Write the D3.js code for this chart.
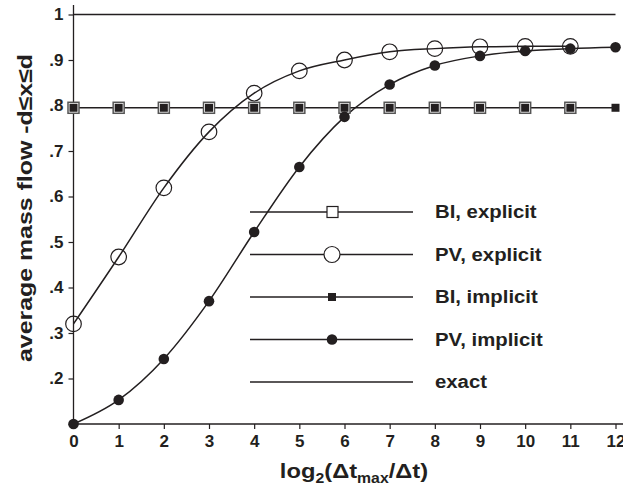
<!DOCTYPE html>
<html>
<head>
<meta charset="utf-8">
<script src="https://cdn.jsdelivr.net/npm/d3@7"></script>
<style>
  body { margin: 0; background: #fff; }
  svg text { font-family: "Liberation Sans", Arial, sans-serif; font-weight: bold; fill: #231f20; }
</style>
</head>
<body>
<div id="chart"></div>
<script>
// data
var steps = [0, 1, 2, 3, 4, 5, 6, 7, 8, 9, 10, 11, 12];
var pvExplicit = [0.32, 0.467, 0.619, 0.742, 0.827, 0.876, 0.90, 0.918, 0.925, 0.929, 0.930, 0.930];
var pvImplicit = [0.10, 0.153, 0.243, 0.37, 0.522, 0.665, 0.775, 0.846, 0.888, 0.909, 0.920, 0.925, 0.928];
var biExplicit = [0.795, 0.795, 0.795, 0.795, 0.795, 0.795, 0.795, 0.795, 0.795, 0.795, 0.795, 0.795];
var biImplicit = [0.795, 0.795, 0.795, 0.795, 0.795, 0.795, 0.795, 0.795, 0.795, 0.795, 0.795, 0.795, 0.795];
var exact = [1, 1];
var exactX = [0, 12];
var yTicks = [0.1, 0.2, 0.3, 0.4, 0.5, 0.6, 0.7, 0.8, 0.9, 1];
var legendNames = ["BI, explicit", "PV, explicit", "BI, implicit", "PV, implicit", "exact"];

var W = 623, H = 491;
var ink = "#231f20";

var svg = d3.select("#chart").append("svg")
    .attr("width", W)
    .attr("height", H);

var x = d3.scaleLinear().domain([0, 12]).range([73.5, 615.5]);
var y = d3.scaleLinear().domain([0.1, 1]).range([424, 14.5]);

function pts(xs, ys) {
    return ys.map(function (v, i) { return [xs[i], v]; });
}

var line = d3.line()
    .x(function (d) { return x(d[0]); })
    .y(function (d) { return y(d[1]); })
    .curve(d3.curveMonotoneX);

// axes
var xAxis = svg.append("g")
    .attr("transform", "translate(0," + y(0.1) + ")")
    .call(d3.axisBottom(x).tickValues(steps).tickSize(5).tickPadding(6).tickFormat(d3.format("d")));
xAxis.select(".domain").remove();
xAxis.append("line")
    .attr("x1", x(0)).attr("x2", W)
    .attr("stroke", ink).attr("stroke-width", 1.3);

var yAxis = svg.append("g")
    .attr("transform", "translate(" + x(0) + ",0)")
    .call(d3.axisLeft(y).tickValues(yTicks).tickSize(5).tickPadding(5)
        .tickFormat(function (d) {
            if (d === 0.1) return "";
            if (d === 1) return "1";
            return d3.format(".1f")(d).replace(/^0/, "");
        }));
yAxis.select(".domain").remove();
yAxis.append("line")
    .attr("y1", 5).attr("y2", y(0.1))
    .attr("stroke", ink).attr("stroke-width", 1.3);

svg.selectAll(".tick line").attr("stroke", ink).attr("stroke-width", 1.2);
svg.selectAll(".tick text").style("font-size", "17px").attr("fill", ink);

// axis titles
svg.append("text")
    .attr("transform", "translate(32,208) rotate(-90)")
    .attr("text-anchor", "middle")
    .attr("textLength", 308)
    .attr("lengthAdjust", "spacingAndGlyphs")
    .style("font-size", "21px")
    .text("average mass flow -d\u2264x\u2264d");

var xt = svg.append("text")
    .attr("transform", "translate(354,478) scale(1.13,1)")
    .attr("text-anchor", "middle")
    .style("font-size", "21px");
xt.append("tspan").text("log");
xt.append("tspan").attr("dy", 5).style("font-size", "14px").text("2");
xt.append("tspan").attr("dy", -5).text("(\u0394t");
xt.append("tspan").attr("dy", 5).style("font-size", "14px").text("max");
xt.append("tspan").attr("dy", -5).text("/\u0394t)");

// series lines
var lw = 1.5;
svg.append("path").datum(pts(exactX, exact))
    .attr("d", line).attr("fill", "none").attr("stroke", ink).attr("stroke-width", lw);
svg.append("path").datum(pts(steps, biImplicit))
    .attr("d", line).attr("fill", "none").attr("stroke", ink).attr("stroke-width", lw);
svg.append("path").datum(pts(steps, pvExplicit))
    .attr("d", line).attr("fill", "none").attr("stroke", ink).attr("stroke-width", lw);
svg.append("path").datum(pts(steps, pvImplicit))
    .attr("d", line).attr("fill", "none").attr("stroke", ink).attr("stroke-width", lw);

// markers
svg.selectAll(".sqOpen").data(pts(steps, biExplicit)).enter().append("rect")
    .attr("x", function (d) { return x(d[0]) - 5.5; })
    .attr("y", function (d) { return y(d[1]) - 5.5; })
    .attr("width", 11).attr("height", 11)
    .attr("fill", "#fff").attr("stroke", "#555").attr("stroke-width", 1.5);
svg.selectAll(".sqFill").data(pts(steps, biImplicit)).enter().append("rect")
    .attr("x", function (d) { return x(d[0]) - 4; })
    .attr("y", function (d) { return y(d[1]) - 4; })
    .attr("width", 8).attr("height", 8)
    .attr("fill", ink);
svg.selectAll(".cOpen").data(pts(steps, pvExplicit)).enter().append("circle")
    .attr("cx", function (d) { return x(d[0]); })
    .attr("cy", function (d) { return y(d[1]); })
    .attr("r", 7.8)
    .attr("fill", "none").attr("stroke", ink).attr("stroke-width", 1.2);
svg.selectAll(".cFill").data(pts(steps, pvImplicit)).enter().append("circle")
    .attr("cx", function (d) { return x(d[0]); })
    .attr("cy", function (d) { return y(d[1]); })
    .attr("r", 5.3)
    .attr("fill", ink);

// legend
var lg = svg.append("g");
var rowY = d3.scalePoint().domain(legendNames).range([212, 382]);
legendNames.forEach(function (name, i) {
    var yy = rowY(name);
    lg.append("line")
        .attr("x1", 250).attr("x2", 413).attr("y1", yy).attr("y2", yy)
        .attr("stroke", ink).attr("stroke-width", 1.3);
    if (i === 0) {
        lg.append("rect").attr("x", 327).attr("y", yy - 5.5).attr("width", 11).attr("height", 11)
            .attr("fill", "#fff").attr("stroke", ink).attr("stroke-width", 1.2);
    } else if (i === 1) {
        lg.append("circle").attr("cx", 332).attr("cy", yy).attr("r", 8)
            .attr("fill", "#fff").attr("stroke", ink).attr("stroke-width", 1.2);
    } else if (i === 2) {
        lg.append("rect").attr("x", 328).attr("y", yy - 4).attr("width", 8).attr("height", 8)
            .attr("fill", ink);
    } else if (i === 3) {
        lg.append("circle").attr("cx", 332).attr("cy", yy).attr("r", 5.3).attr("fill", ink);
    }
    lg.append("text")
        .attr("transform", "translate(435," + (yy + 6) + ") scale(1.13,1)")
        .style("font-size", "18px")
        .text(name);
});
</script>
</body>
</html>
